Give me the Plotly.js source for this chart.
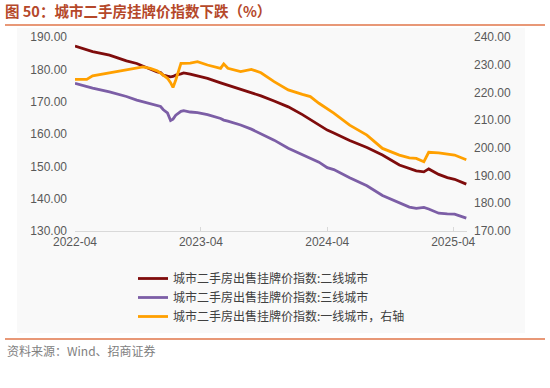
<!DOCTYPE html>
<html>
<head>
<meta charset="utf-8">
<script src="https://cdn.plot.ly/plotly-3.0.1.min.js"></script>
<style>
  html, body { margin: 0; padding: 0; background: #ffffff; }
  #chart { width: 550px; height: 388px; }
</style>
</head>
<body>
<div id="chart"></div>
<script>
// ---- data ----
const dates = [
  '2022-04-01','2022-05-05','2022-05-22','2022-07-10','2022-08-28','2022-09-27','2022-10-15',
  '2022-11-05','2022-11-25','2022-12-05','2022-12-13','2022-12-25','2023-01-03','2023-01-10',
  '2023-01-18','2023-02-02','2023-02-10','2023-03-01','2023-03-22','2023-04-20','2023-05-28',
  '2023-06-06','2023-06-18','2023-07-25','2023-08-25','2023-09-22','2023-10-30','2023-12-10',
  '2024-01-20','2024-02-12','2024-03-08','2024-04-01','2024-04-20','2024-06-05','2024-07-25',
  '2024-09-08','2024-10-27','2024-11-25','2024-12-15','2025-01-06','2025-01-20','2025-02-18',
  '2025-03-15','2025-04-05','2025-05-09'
];
const tier2 = [
  187.2,186.0,185.5,184.4,182.6,181.8,181.0,
  180.0,179.2,179.0,178.2,177.9,177.7,177.8,
  178.2,178.6,178.9,178.5,178.0,177.2,175.8,
  175.5,175.1,173.8,172.9,171.8,170.2,168.4,
  166.0,164.5,163.0,161.2,160.3,158.0,155.8,
  153.5,150.4,149.3,148.6,148.3,149.2,147.5,
  146.5,146.0,144.5
];
const tier3 = [
  175.7,174.6,174.2,173.0,171.6,170.5,170.0,
  169.4,169.0,168.5,167.5,166.5,164.2,164.6,
  165.8,167.0,167.2,166.8,166.6,166.0,164.8,
  164.3,164.0,162.8,161.5,160.0,158.1,155.6,
  153.6,152.6,151.3,149.6,149.0,146.5,144.0,
  141.0,138.8,137.4,137.0,137.3,136.8,135.5,
  135.3,135.2,134.0
];
const tier1 = [
  224.7,224.7,226.0,227.1,228.3,228.7,229.2,
  228.7,227.8,227.0,226.3,225.1,223.5,221.8,
  224.5,230.5,230.5,230.6,231.1,229.9,228.7,
  230.3,228.7,227.5,228.3,227.1,223.9,220.9,
  219.3,218.5,216.1,214.2,212.5,208.2,204.6,
  199.8,197.4,196.4,196.2,195.0,198.4,198.2,
  197.8,197.4,195.7
];
const names = [
  '城市二手房出售挂牌价指数:二线城市',
  '城市二手房出售挂牌价指数:三线城市',
  '城市二手房出售挂牌价指数:一线城市，右轴'
];
const xTicks = ['2022-04-01','2023-04-01','2024-04-01','2025-04-01'];
const xTickText = ['2022-04','2023-04','2024-04','2025-04'];
const leftTicks = [130,140,150,160,170,180,190];
const rightTicks = [170,180,190,200,210,220,230,240];
const titleText = '<b>图 50：城市二手房挂牌价指数下跌（%）</b>';
const sourceText = '资料来源：Wind、招商证券';

// ---- chart ----
const cjk = '"Noto Sans CJK SC", "Noto Sans", sans-serif';
const num = '"Liberation Sans", Arial, sans-serif';

const traces = [
  {x: dates, y: tier2, name: names[0], type: 'scatter', mode: 'lines',
   line: {color: '#7f0c0c', width: 2.8}, yaxis: 'y'},
  {x: dates, y: tier3, name: names[1], type: 'scatter', mode: 'lines',
   line: {color: '#7c5ea6', width: 2.8}, yaxis: 'y'},
  {x: dates, y: tier1, name: names[2], type: 'scatter', mode: 'lines',
   line: {color: '#ffa000', width: 2.8}, yaxis: 'y2'}
];

const L = 75, R = 83, T = 37, B = 157, PW = 550 - L - R, PH = 388 - T - B;
const px = v => (v - L) / PW;
const py = v => (388 - B - v) / PH;

const layout = {
  width: 550, height: 388,
  margin: {l: L, r: R, t: T, b: B, pad: 0},
  paper_bgcolor: '#ffffff',
  plot_bgcolor: 'rgba(0,0,0,0)',
  showlegend: true,
  title: {
    text: titleText,
    font: {family: cjk, size: 14.5, color: '#b5482a'},
    x: 5 / 550, xref: 'container', xanchor: 'left',
    y: 1 - 12 / 388, yref: 'container', yanchor: 'middle'
  },
  xaxis: {
    type: 'date',
    range: ['2022-04-01', '2025-05-11'],
    tickmode: 'array', tickvals: xTicks, ticktext: xTickText,
    showgrid: false, zeroline: false,
    showline: true, linecolor: '#d9d9d9', linewidth: 1,
    ticks: 'inside', ticklen: 4, tickcolor: '#d9d9d9',
    tickfont: {family: num, size: 12, color: '#595959'}
  },
  yaxis: {
    range: [130, 190],
    tickmode: 'array', tickvals: leftTicks,
    tickformat: '.2f',
    showgrid: false, zeroline: false, showline: false,
    ticks: '', ticklabelstandoff: 7,
    tickfont: {family: num, size: 12, color: '#595959'}
  },
  yaxis2: {
    range: [170, 240],
    overlaying: 'y', side: 'right',
    tickmode: 'array', tickvals: rightTicks,
    tickformat: '.2f',
    showgrid: false, zeroline: false, showline: false,
    ticks: '', ticklabelstandoff: 6,
    tickfont: {family: num, size: 12, color: '#595959'}
  },
  legend: {
    x: px(133), xanchor: 'left',
    y: py(264), yanchor: 'top',
    bgcolor: 'rgba(0,0,0,0)',
    font: {family: cjk, size: 12, color: '#404040'},
    tracegroupgap: 0,
    itemwidth: 30
  },
  shapes: [
    {type: 'rect', xref: 'paper', yref: 'paper', layer: 'below',
     x0: px(17), x1: px(525), y0: py(333), y1: py(28),
     fillcolor: '#f9f9f9', line: {width: 0}},
    {type: 'line', xref: 'paper', yref: 'paper',
     x0: px(5), x1: px(545), y0: py(25), y1: py(25),
     line: {color: '#e0764a', width: 1.5}},
    {type: 'line', xref: 'paper', yref: 'paper',
     x0: px(5), x1: px(545), y0: py(339), y1: py(339),
     line: {color: '#e0764a', width: 1.5}}
  ],
  annotations: [
    {text: sourceText, xref: 'paper', yref: 'paper',
     x: px(5), y: py(350), xanchor: 'left', yanchor: 'middle',
     showarrow: false, font: {family: cjk, size: 12, color: '#808080'}}
  ]
};

Plotly.newPlot('chart', traces, layout, {staticPlot: true, displayModeBar: false});
</script>
</body>
</html>
